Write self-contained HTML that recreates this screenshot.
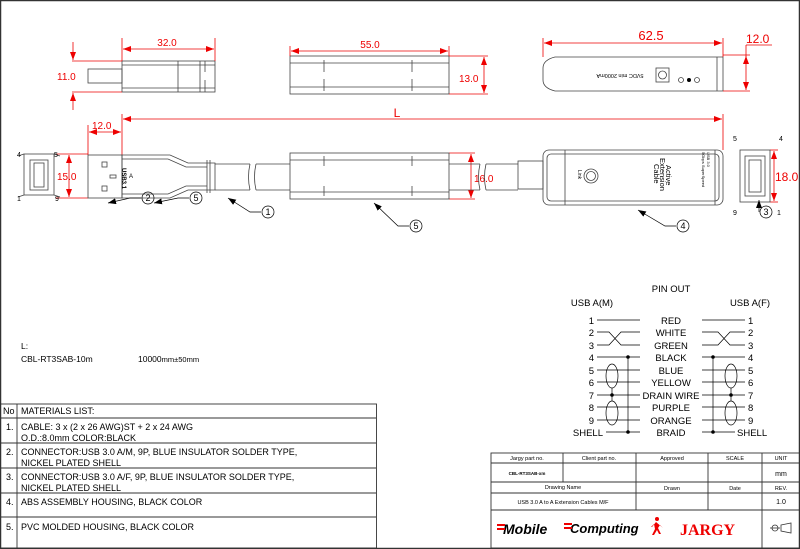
<!DOCTYPE html>
<html><head><meta charset="utf-8"><style>
html,body{margin:0;padding:0;background:#fff}
svg{display:block;font-family:"Liberation Sans",Arial,sans-serif}
</style></head><body>
<svg width="800" height="549" viewBox="0 0 800 549" xmlns="http://www.w3.org/2000/svg">
<defs>
<marker id="ar" markerWidth="8" markerHeight="6" refX="8" refY="3" orient="auto-start-reverse" markerUnits="userSpaceOnUse"><path d="M0,0 L8,3 L0,6 z" fill="#e00"/></marker>
<marker id="ak" markerWidth="8" markerHeight="6" refX="8" refY="3" orient="auto" markerUnits="userSpaceOnUse"><path d="M0,0 L8,3 L0,6 z" fill="#000"/></marker>
</defs>
<rect x="0.5" y="0.5" width="799" height="548" fill="none" stroke="#333" stroke-width="1.5"/>

<g stroke="#444" stroke-width="0.8" fill="none">
<!-- top-left side view -->
<rect x="88" y="69" width="34" height="14"/>
<rect x="122" y="61" width="93" height="31"/>
<line x1="122" y1="65" x2="215" y2="65"/><line x1="122" y1="88" x2="215" y2="88"/>
<line x1="178" y1="61" x2="178" y2="92"/><line x1="200" y1="61" x2="200" y2="92"/>
<line x1="205" y1="61" x2="205" y2="72"/><line x1="205" y1="80" x2="205" y2="92"/>
<!-- top middle -->
<rect x="290" y="56" width="159" height="38"/>
<line x1="290" y1="63" x2="449" y2="63"/><line x1="290" y1="87" x2="449" y2="87"/>
<line x1="324" y1="60" x2="324" y2="72"/><line x1="324" y1="79" x2="324" y2="91"/>
<line x1="412" y1="60" x2="412" y2="72"/><line x1="412" y1="79" x2="412" y2="91"/>
<!-- top right -->
<path d="M555,57 L723,57 L723,91 L555,91 Q543,88 543,80 L543,68 Q543,60 555,57 z"/>
<line x1="717" y1="57" x2="717" y2="91"/>
<rect x="656" y="68" width="13" height="14"/><circle cx="662.5" cy="75" r="4"/>
<circle cx="681" cy="80" r="2.5"/><circle cx="697" cy="80" r="2.5"/>
</g>
<circle cx="689" cy="80" r="2" fill="#000"/>
<text x="620" y="78" font-size="5.5" transform="rotate(180 620 76)" text-anchor="middle" fill="#000">5VDC min 2000mA</text>

<!-- top dims -->
<g stroke="#e00" stroke-width="0.8" fill="none">
<line x1="122" y1="38" x2="122" y2="61"/><line x1="215" y1="38" x2="215" y2="61"/>
<line x1="123" y1="49" x2="214" y2="49" marker-start="url(#ar)" marker-end="url(#ar)"/>
<line x1="72" y1="61" x2="122" y2="61"/><line x1="72" y1="92" x2="122" y2="92"/>
<line x1="73" y1="42" x2="73" y2="60" marker-end="url(#ar)"/><line x1="73" y1="110" x2="73" y2="93" marker-end="url(#ar)"/>
<line x1="290" y1="46" x2="290" y2="56"/><line x1="449" y1="46" x2="449" y2="56"/>
<line x1="291" y1="51" x2="448" y2="51" marker-start="url(#ar)" marker-end="url(#ar)"/>
<line x1="449" y1="56" x2="488" y2="56"/><line x1="449" y1="94" x2="488" y2="94"/>
<line x1="484" y1="57" x2="484" y2="93" marker-start="url(#ar)" marker-end="url(#ar)"/>
<line x1="543" y1="38" x2="543" y2="57"/><line x1="723" y1="38" x2="723" y2="57"/>
<line x1="544" y1="43" x2="722" y2="43" marker-start="url(#ar)" marker-end="url(#ar)"/>
<line x1="723" y1="55" x2="750" y2="55"/><line x1="723" y1="91" x2="750" y2="91"/>
<line x1="746" y1="45" x2="772" y2="45"/>
<line x1="746" y1="45" x2="746" y2="90" marker-end="url(#ar)"/>
<line x1="746" y1="56" x2="746" y2="58" marker-start="url(#ar)"/>
<!-- L -->
<line x1="122" y1="114" x2="122" y2="155"/><line x1="723" y1="114" x2="723" y2="150"/>
<line x1="123" y1="119" x2="722" y2="119" marker-start="url(#ar)" marker-end="url(#ar)"/>
<line x1="88" y1="125" x2="88" y2="155"/>
<line x1="89" y1="132" x2="121" y2="132" marker-start="url(#ar)" marker-end="url(#ar)"/>
<line x1="56" y1="154" x2="88" y2="154"/><line x1="56" y1="198" x2="88" y2="198"/>
<line x1="69" y1="155" x2="69" y2="197" marker-start="url(#ar)" marker-end="url(#ar)"/>
<line x1="449" y1="153" x2="475" y2="153"/><line x1="449" y1="199" x2="475" y2="199"/>
<line x1="471" y1="154" x2="471" y2="198" marker-start="url(#ar)" marker-end="url(#ar)"/>
<line x1="770" y1="150" x2="778" y2="150"/><line x1="770" y1="202" x2="778" y2="202"/>
<line x1="774" y1="151" x2="774" y2="201" marker-start="url(#ar)" marker-end="url(#ar)"/>
</g>
<g fill="#e00" font-size="10">
<text x="167" y="46" text-anchor="middle">32.0</text>
<text x="57" y="80">11.0</text>
<text x="370" y="48" text-anchor="middle">55.0</text>
<text x="459" y="82">13.0</text>
<text x="651" y="40" text-anchor="middle" font-size="13">62.5</text>
<text x="746" y="43" font-size="12">12.0</text>
<text x="397" y="117" font-size="12" text-anchor="middle">L</text>
<text x="92" y="129">12.0</text>
<text x="57" y="180">15.0</text>
<text x="474" y="182">16.0</text>
<text x="775" y="181" font-size="12">18.0</text>
</g>

<!-- bottom row drawing -->
<g stroke="#444" stroke-width="0.8" fill="none">
<rect x="24" y="154" width="30" height="41"/><rect x="30" y="160" width="18" height="30"/>
<rect x="34" y="163" width="10" height="24"/>
<line x1="24" y1="154" x2="18" y2="156"/><line x1="54" y1="154" x2="60" y2="156"/>
<line x1="24" y1="195" x2="18" y2="197"/><line x1="54" y1="195" x2="60" y2="197"/>
<rect x="88" y="155" width="34" height="43"/>
<rect x="102" y="162" width="5" height="5"/><rect x="102" y="186" width="5" height="5"/><rect x="110" y="175" width="6" height="3"/>
<path d="M122,155 L170,155 L188,163 L215,163 L215,190 L188,190 L170,198 L122,198 z"/>
<path d="M122,159 L168,159 L186,167 L207,167 M122,194 L168,194 L186,186 L207,186"/>
<line x1="207" y1="160" x2="207" y2="193"/><line x1="210" y1="160" x2="210" y2="193"/>
<line x1="215" y1="164" x2="250" y2="164"/><line x1="215" y1="190" x2="250" y2="190"/>
<line x1="256" y1="164" x2="290" y2="164"/><line x1="256" y1="190" x2="290" y2="190"/>
<path d="M250,164 q-3,13 0,26 M256,164 q-3,13 0,26"/>
<rect x="290" y="153" width="159" height="46"/>
<line x1="290" y1="160" x2="449" y2="160"/><line x1="290" y1="192" x2="449" y2="192"/>
<line x1="324" y1="156" x2="324" y2="166"/><line x1="324" y1="186" x2="324" y2="196"/>
<line x1="412" y1="156" x2="412" y2="166"/><line x1="412" y1="186" x2="412" y2="196"/>
<line x1="449" y1="164" x2="480" y2="164"/><line x1="449" y1="190" x2="480" y2="190"/>
<line x1="486" y1="164" x2="518" y2="164"/><line x1="486" y1="190" x2="518" y2="190"/>
<path d="M480,164 q-3,13 0,26 M486,164 q-3,13 0,26"/>
<rect x="518" y="161" width="25" height="28"/>
<rect x="543" y="150" width="180" height="55" rx="6"/>
<rect x="547" y="154" width="172" height="47" rx="4"/>
<line x1="565" y1="150" x2="565" y2="205"/><line x1="715" y1="150" x2="715" y2="205"/>
<circle cx="591" cy="176" r="7"/><circle cx="591" cy="176" r="4.5"/>
<rect x="740" y="150" width="30" height="52"/><rect x="745" y="156" width="20" height="40"/>
<rect x="749" y="160" width="12" height="32"/>
</g>
<g fill="#000" font-size="4.5">
<text transform="translate(122,168) rotate(90)" font-size="6" font-weight="bold">USB3.1</text>
<text x="129" y="178" font-size="6">A</text>
<text transform="translate(578,170) rotate(90)" font-size="5">Link</text>
<text transform="translate(666,150) rotate(90)" font-size="7.5" text-anchor="start" x="15">Active</text>
<text transform="translate(660,150) rotate(90)" font-size="7.5" x="8">Extension</text>
<text transform="translate(654,150) rotate(90)" font-size="7.5" x="14">Cable</text>
<text transform="translate(707,152) rotate(90)" font-size="4">USB 3.0</text>
<text transform="translate(702,152) rotate(90)" font-size="4">5Gbps SuperSpeed</text>
</g>
<g font-size="7" fill="#000">
<text x="17" y="157">4</text><text x="54" y="157">5</text><text x="17" y="201">1</text><text x="55" y="201">9</text>
<text x="733" y="141">5</text><text x="779" y="141">4</text><text x="733" y="215">9</text><text x="777" y="215">1</text>
</g>
<!-- callouts -->
<g stroke="#000" stroke-width="0.7" fill="none">
<polyline points="141,198 130,198 108,203" marker-end="url(#ak)"/>
<polyline points="189,198 178,198 154,203" marker-end="url(#ak)"/>
<polyline points="261,212 250,212 228,198" marker-end="url(#ak)"/>
<polyline points="409,226 398,226 374,203" marker-end="url(#ak)"/>
<polyline points="676,226 665,226 638,210" marker-end="url(#ak)"/>
<polyline points="759,212 759,200" marker-end="url(#ak)"/>
<circle cx="148" cy="198" r="6"/><circle cx="196" cy="198" r="6"/><circle cx="268" cy="212" r="6"/>
<circle cx="416" cy="226" r="6"/><circle cx="683" cy="226" r="6"/><circle cx="766" cy="212" r="6"/>
</g>
<g font-size="9" text-anchor="middle" fill="#000">
<text x="148" y="201">2</text><text x="196" y="201">5</text><text x="268" y="215">1</text>
<text x="416" y="229">5</text><text x="683" y="229">4</text><text x="766" y="215">3</text>
</g>

<!-- notes -->
<g font-size="8.5" fill="#000">
<text x="21" y="349">L:</text>
<text x="21" y="362">CBL-RT3SAB-10m</text>
<text x="138" y="362">10000<tspan font-size="7.5">mm±50mm</tspan></text>
</g>

<!-- materials table -->
<g stroke="#333" stroke-width="0.9" fill="none">
<rect x="0.5" y="404" width="376" height="144"/>
<line x1="17" y1="404" x2="17" y2="549"/>
<line x1="0" y1="418" x2="376" y2="418"/><line x1="0" y1="443" x2="376" y2="443"/>
<line x1="0" y1="468" x2="376" y2="468"/><line x1="0" y1="493" x2="376" y2="493"/>
<line x1="0" y1="517" x2="376" y2="517"/>
</g>
<g font-size="9" fill="#000">
<text x="3" y="414">No</text><text x="21" y="414">MATERIALS LIST:</text>
<text x="6" y="430">1.</text><text x="21" y="430">CABLE: 3 x (2 x 26 AWG)ST + 2 x 24 AWG</text><text x="21" y="441">O.D.:8.0mm COLOR:BLACK</text>
<text x="6" y="455">2.</text><text x="21" y="455">CONNECTOR:USB 3.0 A/M, 9P, BLUE INSULATOR SOLDER TYPE,</text><text x="21" y="466">NICKEL PLATED SHELL</text>
<text x="6" y="480">3.</text><text x="21" y="480">CONNECTOR:USB 3.0 A/F, 9P, BLUE INSULATOR SOLDER TYPE,</text><text x="21" y="491">NICKEL PLATED SHELL</text>
<text x="6" y="505">4.</text><text x="21" y="505">ABS ASSEMBLY HOUSING, BLACK COLOR</text>
<text x="6" y="530">5.</text><text x="21" y="530">PVC MOLDED HOUSING, BLACK COLOR</text>
</g>

<!-- pinout -->
<g font-size="9.5" fill="#000">
<text x="671" y="292" text-anchor="middle">PIN OUT</text>
<text x="592" y="306" text-anchor="middle">USB A(M)</text>
<text x="750" y="306" text-anchor="middle">USB A(F)</text>
</g>
<g stroke="#000" stroke-width="0.7" fill="none">
<line x1="597" y1="320" x2="640" y2="320"/><line x1="702" y1="320" x2="745" y2="320"/>
<path d="M597,332 L609,332 L621,345 L640,345 M597,345 L609,345 L621,332 L640,332"/>
<path d="M702,332 L718,332 L730,345 L745,345 M702,345 L718,345 L730,332 L745,332"/>
<line x1="597" y1="357" x2="640" y2="357"/><line x1="702" y1="357" x2="745" y2="357"/>
<line x1="597" y1="370" x2="640" y2="370"/><line x1="702" y1="370" x2="745" y2="370"/>
<line x1="597" y1="382" x2="640" y2="382"/><line x1="702" y1="382" x2="745" y2="382"/>
<line x1="597" y1="395" x2="640" y2="395"/><line x1="702" y1="395" x2="745" y2="395"/>
<line x1="597" y1="407" x2="640" y2="407"/><line x1="702" y1="407" x2="745" y2="407"/>
<line x1="597" y1="420" x2="640" y2="420"/><line x1="702" y1="420" x2="745" y2="420"/>
<line x1="606" y1="432" x2="640" y2="432"/><line x1="702" y1="432" x2="735" y2="432"/>
<line x1="628" y1="357" x2="628" y2="432"/><line x1="713" y1="357" x2="713" y2="432"/>
<ellipse cx="612" cy="376" rx="6" ry="12"/><ellipse cx="612" cy="413" rx="6" ry="12"/>
<ellipse cx="731" cy="376" rx="6" ry="12"/><ellipse cx="731" cy="413" rx="6" ry="12"/>
<line x1="612" y1="388" x2="612" y2="401"/><line x1="731" y1="388" x2="731" y2="401"/>
</g>
<g fill="#000">
<circle cx="628" cy="357" r="1.8"/><circle cx="628" cy="432" r="1.8"/><circle cx="612" cy="395" r="1.8"/>
<circle cx="713" cy="357" r="1.8"/><circle cx="713" cy="432" r="1.8"/><circle cx="731" cy="395" r="1.8"/>
</g>
<g font-size="9.5" fill="#000">
<g text-anchor="end">
<text x="594" y="324">1</text><text x="594" y="336">2</text><text x="594" y="349">3</text><text x="594" y="361">4</text>
<text x="594" y="374">5</text><text x="594" y="386">6</text><text x="594" y="399">7</text><text x="594" y="411">8</text>
<text x="594" y="424">9</text><text x="603" y="436">SHELL</text></g>
<g text-anchor="start">
<text x="748" y="324">1</text><text x="748" y="336">2</text><text x="748" y="349">3</text><text x="748" y="361">4</text>
<text x="748" y="374">5</text><text x="748" y="386">6</text><text x="748" y="399">7</text><text x="748" y="411">8</text>
<text x="748" y="424">9</text><text x="737" y="436">SHELL</text></g>
<g text-anchor="middle">
<text x="671" y="324">RED</text><text x="671" y="336">WHITE</text><text x="671" y="349">GREEN</text><text x="671" y="361">BLACK</text>
<text x="671" y="374">BLUE</text><text x="671" y="386">YELLOW</text><text x="671" y="399">DRAIN WIRE</text><text x="671" y="411">PURPLE</text>
<text x="671" y="424">ORANGE</text><text x="671" y="436">BRAID</text></g>
</g>

<!-- title block -->
<g stroke="#333" stroke-width="0.9" fill="none">
<rect x="491" y="453" width="309" height="95"/>
<line x1="491" y1="463" x2="800" y2="463"/><line x1="491" y1="482" x2="800" y2="482"/>
<line x1="491" y1="493" x2="800" y2="493"/><line x1="491" y1="510" x2="800" y2="510"/>
<line x1="563" y1="453" x2="563" y2="482"/><line x1="636" y1="453" x2="636" y2="510"/>
<line x1="708" y1="453" x2="708" y2="510"/><line x1="762" y1="453" x2="762" y2="548"/>
</g>
<g font-size="5.5" fill="#000" text-anchor="middle">
<text x="527" y="460">Jargy part no.</text><text x="599" y="460">Client part no.</text>
<text x="672" y="460">Approved</text><text x="735" y="460">SCALE</text><text x="781" y="460">UNIT</text>
<text x="527" y="475" font-size="4.5" font-weight="bold">CBL-RT3SAB-xm</text>
<text x="781" y="476" font-size="7">mm</text>
<text x="563" y="489">Drawing Name</text><text x="672" y="490">Drawn</text><text x="735" y="490">Date</text><text x="781" y="490">REV.</text>
<text x="563" y="504">USB 3.0 A to A Extension Cables M/F</text>
<text x="781" y="504" font-size="7">1.0</text>
</g>
<g font-family="Liberation Sans,sans-serif" font-weight="bold" font-style="italic">
<text x="503" y="534" font-size="14" fill="#000">Mobile</text>
<text x="570" y="533" font-size="13" fill="#000">Computing</text>
<text x="680" y="535" font-size="16" fill="#e00" font-family="Liberation Serif,serif" font-style="normal">JARGY</text>
</g>
<g fill="#e00"><rect x="497" y="524" width="8" height="2"/><rect x="497" y="528" width="8" height="2"/><rect x="564" y="523" width="8" height="2"/><rect x="564" y="527" width="8" height="2"/>
<circle cx="657" cy="519" r="2"/><path d="M656,522 l-4,5 l-5,0 l4,0 l3,-3 l1,5 l-3,6 l2,0 l3,-5 l2,4 l2,0 l-3,-6 l2,-3 l3,3 z"/></g>
<g stroke="#333" stroke-width="0.8" fill="none"><circle cx="775" cy="528" r="3"/><line x1="770" y1="528" x2="780" y2="528"/><path d="M781,525 L791,523 L791,533 L781,531 z"/></g>
</svg>
</body></html>
